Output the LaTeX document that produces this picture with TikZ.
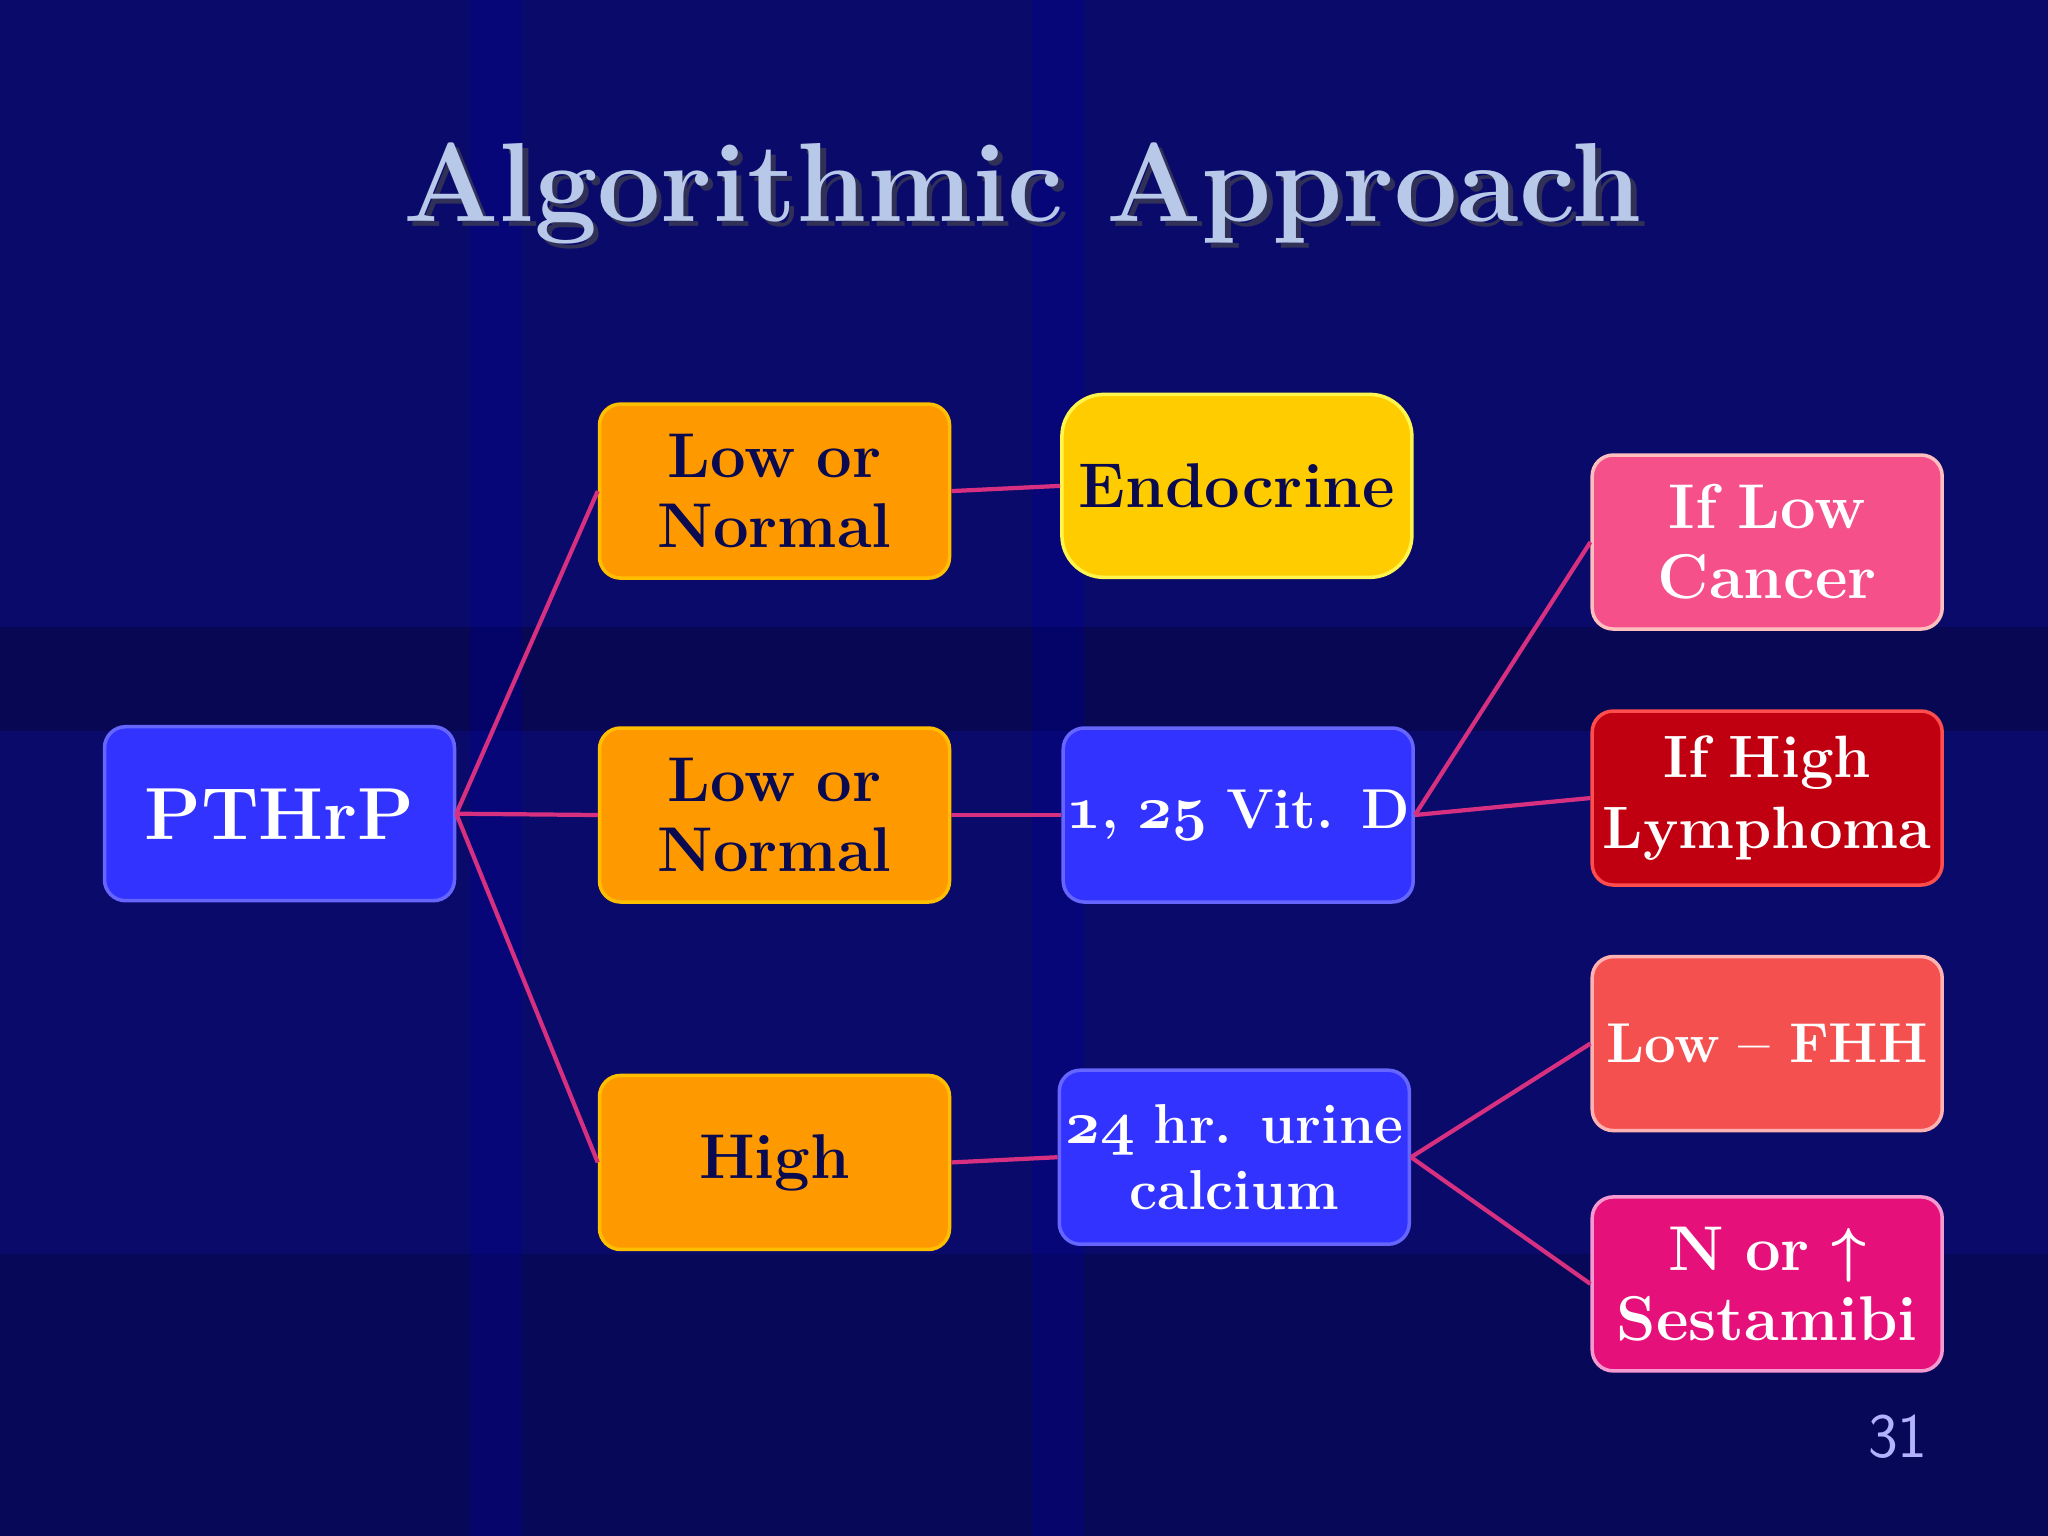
\documentclass[tikz,border=0pt]{standalone}
\usepackage{amsmath,bm}
\newcommand{\osn}[1]{{\fontencoding{OML}\fontfamily{cmm}\fontseries{b}\fontshape{it}\selectfont #1}}
\definecolor{bg}{HTML}{0A0A6A}
\definecolor{bgd}{HTML}{050540}
\definecolor{ttl}{HTML}{B8C8E8}
\definecolor{orng}{HTML}{FF9900}
\definecolor{yel}{HTML}{FFCC00}
\definecolor{blu}{HTML}{3333FF}
\definecolor{pnk}{HTML}{F5508A}
\definecolor{drd}{HTML}{C00010}
\definecolor{sal}{HTML}{F55050}
\definecolor{mag}{HTML}{E5107A}
\definecolor{lnk}{HTML}{D83080}
\definecolor{navy}{HTML}{0A0A50}
\begin{document}
\begin{tikzpicture}[x=0.013061cm,y=-0.013061cm,
 box/.style={rounded corners=6pt,minimum width=3.5cm,text width=3.45cm,minimum height=1.74cm,align=center,font=\fontsize{18}{20}\selectfont\bfseries,inner sep=0.5pt,line width=1pt},
 lnk/.style={draw=lnk,line width=1.2pt}]
\fill[bg] (0,0) rectangle (1568,1176);
\fill[bgd,opacity=0.5] (0,480) rectangle (1568,560);
\fill[bgd,opacity=0.4] (0,960) rectangle (1568,1176);
\fill[blue!60!black,opacity=0.3] (360,0) rectangle (400,1176);
\fill[blue!60!black,opacity=0.3] (790,0) rectangle (830,1176);
\node[font=\fontsize{32}{36}\selectfont\bfseries,text=black!70,opacity=0.6] at (787,152) {Algorithmic Approach};
\node[font=\fontsize{32}{36}\selectfont\bfseries,text=ttl] (title) at (783,148) {Algorithmic Approach};
\node[box,fill=blu,draw=blue!60!white,text=white,font=\fontsize{21}{24}\selectfont\bfseries] (p) at (214,623) {PTHrP};
\node[box,fill=orng,draw=orange!50!yellow,text=navy] (a) at (593,376) {Low or\\Normal};
\node[box,fill=orng,draw=orange!50!yellow,text=navy] (b) at (593,624) {Low or\\Normal};
\node[box,fill=orng,draw=orange!50!yellow,text=navy] (c) at (593,890) {High};
\node[box,fill=yel,draw=yellow!70!white,text=navy,minimum height=1.83cm,rounded corners=12pt] (e) at (947,372) {Endocrine};
\node[box,fill=blu,draw=blue!60!white,text=white,font=\fontsize{16}{19}\selectfont\bfseries] (v) at (948,624) {\osn{1}, \osn{25} Vit. D};
\node[box,fill=blu,draw=blue!60!white,text=white,font=\fontsize{16}{19}\selectfont\bfseries] (u) at (945,886) {\osn{24} hr. urine\\calcium};
\node[box,fill=pnk,draw=pink,text=white] (r1) at (1353,415) {If Low\\Cancer};
\node[box,fill=drd,draw=red!70!white,text=white,font=\fontsize{17}{20}\selectfont\bfseries] (r2) at (1353,611) {If High\\Lymphoma};
\node[box,fill=sal,draw=red!30!white,text=white,font=\fontsize{16}{20}\selectfont\bfseries] (r3) at (1353,799) {Low -- FHH};
\node[box,fill=mag,draw=magenta!40!white,text=white] (r4) at (1353,983) {N or $\bm{\uparrow}$\\Sestamibi};
\draw[lnk] (p.east) -- (a.west);
\draw[lnk] (p.east) -- (b.west);
\draw[lnk] (p.east) -- (c.west);
\draw[lnk] (a.east) -- (e.west);
\draw[lnk] (b.east) -- (v.west);
\draw[lnk] (c.east) -- (u.west);
\draw[lnk] (v.east) -- (r1.west);
\draw[lnk] (v.east) -- (r2.west);
\draw[lnk] (u.east) -- (r3.west);
\draw[lnk] (u.east) -- (r4.west);
\node[font=\sffamily\fontsize{18}{20}\selectfont,text=blue!30!white] (pg) at (1453,1100) {31};
\end{tikzpicture}
\end{document}
